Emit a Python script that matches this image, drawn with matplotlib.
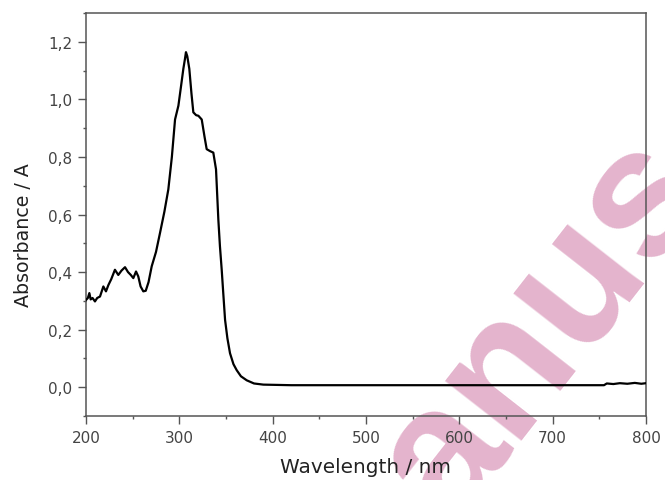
import matplotlib
matplotlib.use("Agg")
import matplotlib.pyplot as plt
from matplotlib.ticker import MultipleLocator, FuncFormatter

# UV-Vis absorption spectrum
wavelength = [200, 202, 203.6, 205, 207, 209.6, 212, 215, 218.6, 221.4, 224, 227, 231, 234.6,
              238, 241.8, 245, 248, 250.7, 253.6, 256, 258.5, 261.4, 264, 267, 270.4, 275,
              279.3, 284, 288.2, 292, 295.4, 299, 302, 304.3, 306, 307.1, 308.5, 310.7,
              313, 315, 318, 320.4, 324, 327, 329.3, 333, 336.4, 339.3, 341.8, 343.5,
              345.4, 347, 349, 351.5, 354.3, 358, 361.5, 366, 372.2, 380, 390, 420, 500,
              600, 700, 755, 758, 765, 772, 780, 788, 795, 800]
absorbance = [0.303, 0.31, 0.327, 0.305, 0.31, 0.298, 0.31, 0.315, 0.35, 0.333, 0.355, 0.375,
              0.408, 0.39, 0.405, 0.417, 0.40, 0.39, 0.379, 0.402, 0.385, 0.35, 0.333, 0.335,
              0.365, 0.42, 0.47, 0.536, 0.61, 0.687, 0.80, 0.93, 0.978, 1.05, 1.106, 1.14,
              1.164, 1.15, 1.106, 1.02, 0.955, 0.945, 0.943, 0.93, 0.87, 0.827, 0.82, 0.815,
              0.757, 0.582, 0.49, 0.408, 0.33, 0.234, 0.17, 0.118, 0.08, 0.059, 0.038, 0.024,
              0.013, 0.009, 0.007, 0.007, 0.007, 0.007, 0.007, 0.013, 0.011, 0.014, 0.012,
              0.015, 0.012, 0.014]

x_ticks = [200, 300, 400, 500, 600, 700, 800]
y_ticks = [0.0, 0.2, 0.4, 0.6, 0.8, 1.0, 1.2]

plt.rcParams['font.family'] = ['DejaVu Sans']

fig = plt.figure(figsize=(6.65, 4.81), dpi=100)
ax = fig.add_axes([86/665, 1 - 417/481, 560/665, 403/481])

ax.plot(wavelength, absorbance, color='black', lw=1.6, zorder=3)

ax.set_xlim(200, 800)
ax.set_ylim(-0.1, 1.3)
ax.set_xticks(x_ticks)
ax.set_yticks(y_ticks)
ax.xaxis.set_minor_locator(MultipleLocator(50))
ax.yaxis.set_minor_locator(MultipleLocator(0.1))
ax.yaxis.set_major_formatter(FuncFormatter(lambda v, p: f"{v:.1f}".replace('.', ',')))

spine_col = '#555555'
for s in ax.spines.values():
    s.set_color(spine_col)
    s.set_linewidth(1.1)
ax.tick_params(which='both', direction='out', colors=spine_col, labelcolor='#444444',
               top=False, right=False)
ax.tick_params(which='major', length=5.5, width=1.0, labelsize=11, pad=4.5)
ax.tick_params(which='minor', length=2.5, width=1.0)

ax.set_xlabel('Wavelength / nm', fontsize=14.4, color='#222222')
ax.set_ylabel('Absorbance / A', fontsize=13.7, color='#222222')
ax.xaxis.label.set_va('center')
ax.yaxis.label.set_va('center')
ax.xaxis.set_label_coords(0.5, -0.125)
ax.yaxis.set_label_coords(-0.1116, 0.452)

# diagonal watermark lettering behind the data
ax.text(544/665, 1 - 328/481, 'anus', transform=fig.transFigure, fontsize=132,
        fontweight='bold', color='#e4b4cd', rotation=52, rotation_mode='anchor',
        family='Liberation Sans', ha='center', va='center', zorder=0, clip_on=False)

fig.savefig('out.png', dpi=100)
